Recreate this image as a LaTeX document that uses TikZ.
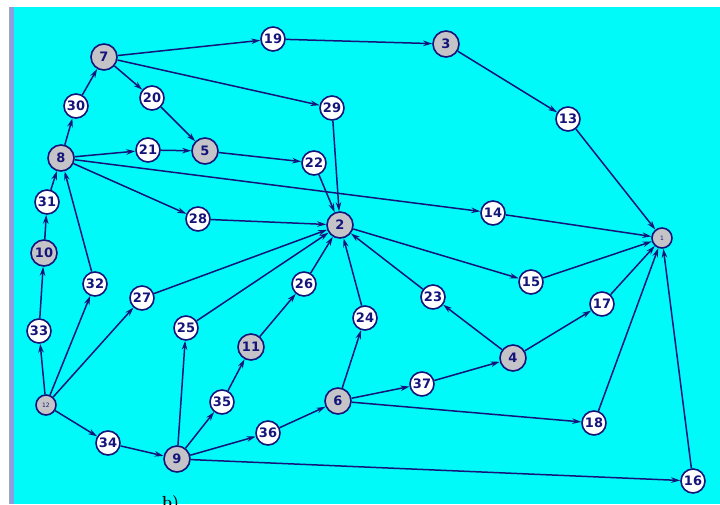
\documentclass[tikz,border=0pt]{standalone}
\usepackage{fontspec}
\setsansfont{DejaVu Sans}
\usetikzlibrary{arrows.meta}
\definecolor{ink}{HTML}{14147A}
\definecolor{sky}{HTML}{00FAFA}
\definecolor{shade}{HTML}{C4C4C8}
\definecolor{rim}{HTML}{8C9CE0}
\tikzset{
  nd/.style={circle,draw=ink,line width=1.6pt,fill=white,minimum size=24pt,inner sep=0pt,text=ink,font=\sffamily\bfseries\fontsize{13}{13}\selectfont},
  ndg/.style={nd,fill=shade,minimum size=26pt},
  nds/.style={nd,fill=shade,minimum size=20pt,font=\sffamily\fontsize{6}{6}\selectfont},
  ar/.style={-{Stealth[length=9pt,width=5.5pt]},draw=ink,line width=1.5pt},
}
\begin{document}
\begin{tikzpicture}[x=1pt,y=-1pt]
  \useasboundingbox (0,0) rectangle (720,504);
  \fill[sky] (14,7) rectangle (720,504);
  \fill[rim] (10,7) rectangle (14,504);
  \draw[gray!70,line width=1pt] (9.5,7) -- (9.5,504);

  % top part
  \node[ndg] (n7) at (104,57) {7};
  \node[nd] (n19) at (273,39) {19};
  \node[ndg] (n3) at (446,44) {3};
  \node[nd] (n13) at (568,119) {13};
  \node[nd] (n30) at (76,106) {30};
  \node[nd] (n20) at (152,98) {20};
  \node[nd] (n29) at (332,108) {29};
  \node[ndg] (n8) at (61,158) {8};
  \node[nd] (n21) at (148,150) {21};
  \node[ndg] (n5) at (205,151) {5};
  \node[nd] (n22) at (314,163) {22};
  \node[nd] (n31) at (47,202) {31};
  \node[nd] (n28) at (198,219) {28};
  \node[ndg] (n2) at (340,225) {2};
  \node[nd] (n14) at (493,213) {14};
  \node[nds] (n1) at (662,238) {1};

  % middle and bottom
  \node[ndg] (n10) at (44,253) {10};
  \node[nd] (n32) at (95,284) {32};
  \node[nd] (n27) at (142,298) {27};
  \node[nd] (n26) at (304,284) {26};
  \node[nd] (n15) at (531,282) {15};
  \node[nd] (n23) at (433,297) {23};
  \node[nd] (n17) at (602,304) {17};
  \node[nd] (n33) at (39,331) {33};
  \node[nd] (n25) at (186,328) {25};
  \node[ndg] (n11) at (251,347) {11};
  \node[nd] (n24) at (365,318) {24};
  \node[ndg] (n4) at (513,358) {4};
  \node[nd] (n37) at (422,384) {37};
  \node[nds] (n12) at (46,405) {12};
  \node[nd] (n35) at (222,402) {35};
  \node[ndg] (n6) at (338,401) {6};
  \node[nd] (n18) at (594,423) {18};
  \node[nd] (n34) at (108,443) {34};
  \node[nd] (n36) at (268,433) {36};
  \node[ndg] (n9) at (177,459) {9};
  \node[nd] (n16) at (693,481) {16};

  \node[anchor=north west,inner sep=0pt,font=\bfseries\fontsize{16}{16}\selectfont] (cap) at (162,495) {b)};

  \draw[ar] (n7) -- (n19); \draw[ar] (n19) -- (n3); \draw[ar] (n3) -- (n13); \draw[ar] (n13) -- (n1);
  \draw[ar] (n7) -- (n20); \draw[ar] (n7) -- (n29); \draw[ar] (n30) -- (n7); \draw[ar] (n8) -- (n30);
  \draw[ar] (n20) -- (n5); \draw[ar] (n8) -- (n21); \draw[ar] (n21) -- (n5); \draw[ar] (n5) -- (n22);
  \draw[ar] (n22) -- (n2); \draw[ar] (n29) -- (n2); \draw[ar] (n8) -- (n14); \draw[ar] (n14) -- (n1);
  \draw[ar] (n8) -- (n28); \draw[ar] (n28) -- (n2); \draw[ar] (n31) -- (n8); \draw[ar] (n10) -- (n31);
  \draw[ar] (n33) -- (n10); \draw[ar] (n12) -- (n33); \draw[ar] (n12) -- (n32); \draw[ar] (n32) -- (n8);
  \draw[ar] (n12) -- (n27); \draw[ar] (n27) -- (n2); \draw[ar] (n12) -- (n34); \draw[ar] (n34) -- (n9);
  \draw[ar] (n9) -- (n25); \draw[ar] (n25) -- (n2); \draw[ar] (n9) -- (n35); \draw[ar] (n35) -- (n11);
  \draw[ar] (n11) -- (n26); \draw[ar] (n26) -- (n2); \draw[ar] (n9) -- (n36); \draw[ar] (n36) -- (n6);
  \draw[ar] (n6) -- (n24); \draw[ar] (n24) -- (n2); \draw[ar] (n6) -- (n37); \draw[ar] (n37) -- (n4);
  \draw[ar] (n4) -- (n23); \draw[ar] (n23) -- (n2); \draw[ar] (n4) -- (n17); \draw[ar] (n17) -- (n1);
  \draw[ar] (n2) -- (n15); \draw[ar] (n15) -- (n1); \draw[ar] (n6) -- (n18); \draw[ar] (n18) -- (n1);
  \draw[ar] (n9) -- (n16); \draw[ar] (n16) -- (n1);
\end{tikzpicture}
\end{document}
